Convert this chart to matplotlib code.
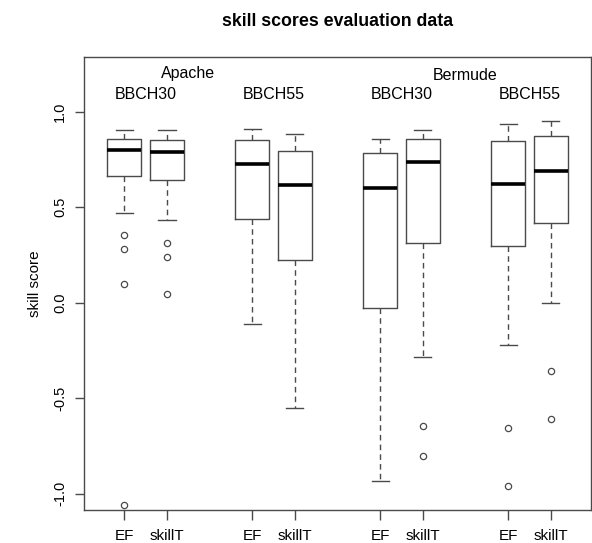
import numpy as np
import matplotlib
matplotlib.use("Agg")
import matplotlib.pyplot as plt

plt.rcParams['font.family'] = ['Liberation Sans', 'DejaVu Sans']

# box statistics per group: Apache/Bermude x BBCH30/BBCH55 x EF/skillT
labels  = ['EF', 'skillT', 'EF', 'skillT', 'EF', 'skillT', 'EF', 'skillT']
pos     = [1, 2, 4, 5, 7, 8, 10, 11]
whislo  = [0.467, 0.432, -0.112, -0.554, -0.935, -0.287, -0.223, -0.003]
q1      = [0.661, 0.641, 0.437, 0.221, -0.027, 0.313, 0.298, 0.418]
med     = [0.800, 0.788, 0.725, 0.613, 0.599, 0.734, 0.619, 0.687]
q3      = [0.856, 0.849, 0.853, 0.793, 0.783, 0.856, 0.847, 0.872]
whishi  = [0.905, 0.901, 0.910, 0.880, 0.856, 0.905, 0.933, 0.950]
fliers  = [[0.352, 0.282, 0.098, -1.060],
           [0.311, 0.238, 0.043],
           [], [], [],
           [-0.647, -0.802],
           [-0.655, -0.962],
           [-0.360, -0.612]]

stats = []
for i in range(len(pos)):
    stats.append(dict(med=med[i], q1=q1[i], q3=q3[i], whislo=whislo[i],
                      whishi=whishi[i], fliers=fliers[i]))

col = '#4a4a4a'
fig = plt.figure(figsize=(5.92, 5.43), dpi=100)
ax = fig.add_axes([0.1424, 0.0608, 0.8556, 0.8348])

ax.bxp(stats, positions=pos, widths=0.8, showfliers=True,
       boxprops=dict(color=col, lw=1.0),
       medianprops=dict(color='black', lw=2.6, solid_capstyle='butt'),
       whiskerprops=dict(color=col, lw=1.0, linestyle=(0, (4, 3))),
       capprops=dict(color=col, lw=1.0),
       capwidths=0.4,
       flierprops=dict(marker='o', markersize=4.5, markerfacecolor='none',
                       markeredgecolor=col, markeredgewidth=0.9))

ax.set_xlim(0.06, 11.94)
ax.set_ylim(-1.086, 1.287)
ax.set_xticks(pos)
ax.set_xticklabels(labels, fontsize=11)
ax.set_yticks([-1.0, -0.5, 0.0, 0.5, 1.0])
ax.set_yticklabels(['-1.0', '-0.5', '0.0', '0.5', '1.0'], rotation=90,
                   va='center', fontsize=10.5)
ax.tick_params(axis='x', length=7, width=1.0, color=col, pad=7)
ax.tick_params(axis='y', length=6.5, width=1.0, color=col, pad=6)

for side in ['top', 'right', 'bottom', 'left']:
    ax.spines[side].set_color(col)
    ax.spines[side].set_linewidth(1.0)

ax.set_ylabel('skill score', fontsize=11, labelpad=8)

# group labels inside the frame
ax.text(2.5, 1.198, 'Apache', ha='center', va='center', fontsize=11.5)
ax.text(9.0, 1.191, 'Bermude', ha='center', va='center', fontsize=11.5)
for xc in [1.5, 4.5, 7.5, 10.5]:
    ax.text(xc, 1.09, 'BBCH30' if xc in (1.5, 7.5) else 'BBCH55',
            ha='center', va='center', fontsize=11.5)

fig.text(0.5703, 0.96, 'skill scores evaluation data', ha='center',
         va='center', fontsize=12.8, fontweight='bold')

fig.savefig('out.png', dpi=100)
